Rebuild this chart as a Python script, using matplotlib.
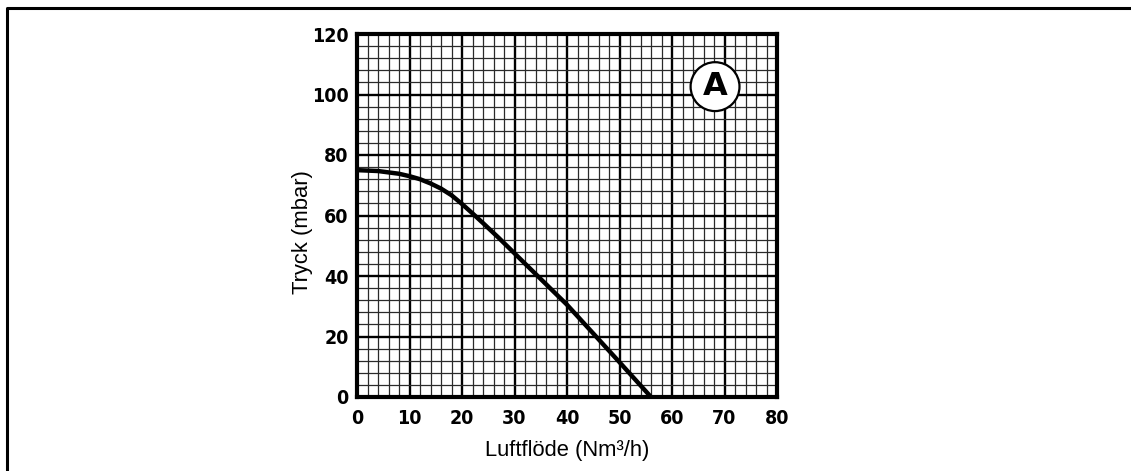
import matplotlib.pyplot as plt
import numpy as np
from matplotlib.lines import Line2D

# kurva A
flow = [0, 4, 8, 10, 12, 14, 16, 18, 20, 22, 24, 27, 30, 35, 40, 45, 50, 56]
pressure = [75, 74.7, 73.8, 73, 72, 70.6, 68.9, 66.7, 63.8, 60.7, 57.5, 52.6, 47.5, 39, 30.5, 21, 11.5, 0]

x_ticks = [0, 10, 20, 30, 40, 50, 60, 70, 80]
y_ticks = [0, 20, 40, 60, 80, 100, 120]


def plot():
    fig = plt.figure(figsize=(11.31, 4.71), dpi=100)
    ax = fig.add_axes([357/1131, 1 - 397/471, 420/1131, 363/471])

    # ram runt figuren (vänster + topp)
    fig.add_artist(Line2D([7/1131, 7/1131, 1.0], [0.0, 1 - 8/471, 1 - 8/471],
                          transform=fig.transFigure, color='black', lw=2.2))

    ax.set_xlim(0, 80)
    ax.set_ylim(0, 120)
    ax.set_xticks(x_ticks)
    ax.set_yticks(y_ticks)
    ax.set_xticks(np.arange(0, 81, 2), minor=True)
    ax.set_yticks(np.arange(0, 121, 4), minor=True)
    ax.grid(which='minor', color='#2a2a2a', lw=0.9)
    ax.grid(which='major', color='black', lw=1.7)
    ax.set_axisbelow(True)
    ax.tick_params(which='both', length=0)
    ax.tick_params(axis='x', pad=9)
    ax.tick_params(axis='y', pad=6)
    for lab in ax.get_xticklabels() + ax.get_yticklabels():
        lab.set_fontfamily('DejaVu Sans')
        lab.set_fontweight('bold')
        lab.set_fontstretch('condensed')
        lab.set_fontsize(14)
    for s in ax.spines.values():
        s.set_linewidth(3)

    ax.plot(flow, pressure, color='black', lw=3.2, solid_joinstyle='round',
            solid_capstyle='butt', zorder=5)

    ax.text(68.2, 102.6, 'A', fontsize=23, fontweight='bold', fontfamily='DejaVu Sans',
            ha='center', va='center', zorder=6,
            bbox=dict(boxstyle='circle,pad=0.28', fc='white', ec='black', lw=1.6))

    ax.set_xlabel('Luftflöde (Nm³/h)', fontfamily='Liberation Sans', fontsize=15.8, labelpad=8)
    ax.set_ylabel('Tryck (mbar)', fontfamily='Liberation Sans', fontsize=15.8)
    ax.yaxis.set_label_coords(-0.105, 0.455)

    fig.savefig('out.png', dpi=100)


if __name__ == '__main__':
    plot()
